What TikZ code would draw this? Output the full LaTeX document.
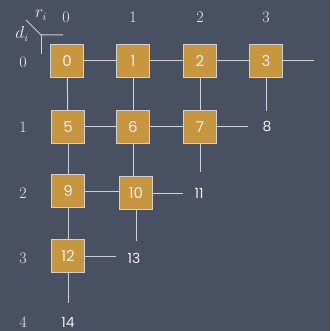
\documentclass[tikz,border=0pt]{standalone}
\usepackage{fontspec}
\newfontfamily\chalk{Poppins}
\definecolor{slate}{RGB}{72,80,98}
\definecolor{gold}{RGB}{200,150,62}
\definecolor{chalkline}{RGB}{205,208,214}
\definecolor{chalktext}{RGB}{238,238,238}
\begin{document}
\begin{tikzpicture}[x=1pt,y=-1pt,
  cell/.style={draw=chalkline,line width=1pt,fill=gold,minimum size=33pt,inner sep=0pt,
    text=chalktext,font=\chalk\fontsize{15}{15}\selectfont},
  free/.style={text=chalktext,font=\chalk\fontsize{14}{14}\selectfont,inner sep=1pt},
  head/.style={text=chalktext,font=\fontsize{16}{16}\selectfont,inner sep=0pt},
  link/.style={draw=chalkline,line width=1pt}]
\fill[slate] (0,0) rectangle (330,331);
\useasboundingbox (0,0) rectangle (330,331);
% header
\node[head] (c0) at (66,17) {0};
\node[head] (c1) at (133,17) {1};
\node[head] (c2) at (200,17) {2};
\node[head] (c3) at (266,17) {3};
\node[head] (r0) at (23,62) {0};
\node[head] (r1) at (23,127) {1};
\node[head] (r2) at (23,193) {2};
\node[head] (r3) at (23,258) {3};
\node[head] (r4) at (23,322) {4};
\node[head] (ri) at (41,15) {$r_i$};
\node[head] (di) at (22,34) {$d_i$};
\coordinate (corner) at (41,35);
\coordinate (diagend) at (26,20);
\coordinate (hend) at (63,35);
\coordinate (vend) at (41,54);
\draw[link] (diagend) -- (corner) -- (hend);
\draw[link] (corner) -- (vend);
% cells
\node[cell] (n0) at (67,61) {0};
\node[cell] (n1) at (133,61) {1};
\node[cell] (n2) at (200,61) {2};
\node[cell] (n3) at (266,61) {3};
\node[cell] (n5) at (68,127) {5};
\node[cell] (n6) at (133,127) {6};
\node[cell] (n7) at (200,127) {7};
\node[cell] (n9) at (68,191) {9};
\node[cell] (n10) at (136,193) {10};
\node[cell] (n12) at (68,256) {12};
% free labels
\node[free] (f8) at (267,127) {8};
\node[free] (f11) at (199,193) {11};
\node[free] (f13) at (134,258) {13};
\node[free] (f14) at (68,322) {14};
\coordinate (e3r) at (314,61);
\coordinate (e3d) at (266,111);
\coordinate (e7r) at (248,127);
\coordinate (e7d) at (200,172);
\coordinate (e10r) at (183,193);
\coordinate (e10d) at (136,241);
\coordinate (e12r) at (116,256);
\coordinate (e12d) at (68,303);
% links
\draw[link] (n0) -- (n1);
\draw[link] (n1) -- (n2);
\draw[link] (n2) -- (n3);
\draw[link] (n3) -- (e3r);
\draw[link] (n3) -- (e3d);
\draw[link] (n0) -- (n5);
\draw[link] (n1) -- (n6);
\draw[link] (n2) -- (n7);
\draw[link] (n5) -- (n6);
\draw[link] (n6) -- (n7);
\draw[link] (n7) -- (e7r);
\draw[link] (n7) -- (e7d);
\draw[link] (n5) -- (n9);
\draw[link] (n6.south) -- (n6.south |- n10.north);
\draw[link] (n9.east) -- (n10.west |- n9.east);
\draw[link] (n10) -- (e10r);
\draw[link] (n10) -- (e10d);
\draw[link] (n9) -- (n12);
\draw[link] (n12) -- (e12r);
\draw[link] (n12) -- (e12d);
\end{tikzpicture}
\end{document}
